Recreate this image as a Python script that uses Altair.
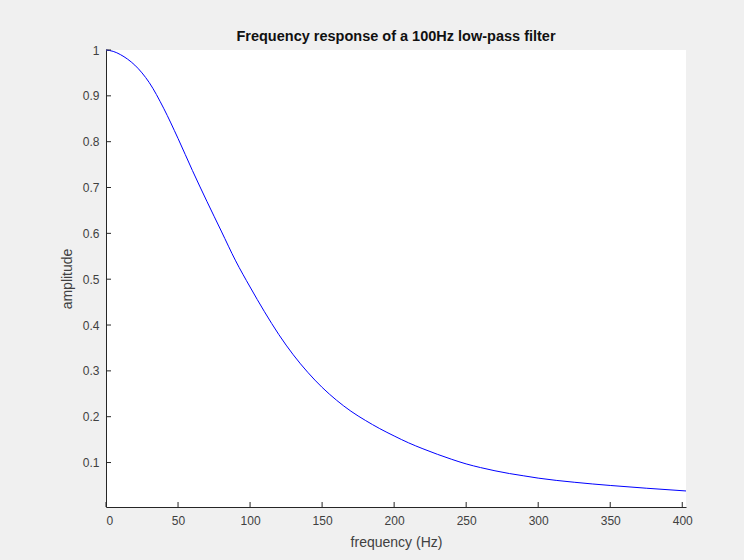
import altair as alt
import pandas as pd

freq = [0, 5, 10, 15, 20, 25, 30, 40, 50, 60, 70, 80, 90, 100, 110, 120, 130,
        140, 150, 160, 170, 180, 190, 200, 210, 220, 230, 240, 250, 260, 270,
        280, 290, 300, 325, 350, 375, 402.6]
amp = [1.0, 0.997, 0.990, 0.980, 0.967, 0.950, 0.929, 0.873, 0.807, 0.737,
       0.670, 0.605, 0.540, 0.483, 0.429, 0.379, 0.335, 0.297, 0.264, 0.236,
       0.212, 0.192, 0.174, 0.158, 0.143, 0.130, 0.118, 0.107, 0.097, 0.089,
       0.082, 0.076, 0.071, 0.066, 0.057, 0.050, 0.044, 0.038]
x_ticks = [0, 50, 100, 150, 200, 250, 300, 350, 400]
y_ticks = [0.1, 0.2, 0.3, 0.4, 0.5, 0.6, 0.7, 0.8, 0.9, 1.0]

W, H = 580, 457
FONT = "Liberation Sans"
TXT = "#404040"
AX = "#262626"

df = pd.DataFrame({"f": freq, "a": amp})
xt = pd.DataFrame({"t": x_ticks})
yt = pd.DataFrame({"t": y_ticks})

xs = alt.Scale(domain=[0, 402.6], nice=False, zero=False)
ys = alt.Scale(domain=[0.003, 1], nice=False, zero=False)

line = alt.Chart(df).mark_line(color="#0000ff", strokeWidth=1, interpolate="monotone").encode(
    x=alt.X("f:Q", scale=xs, title="frequency (Hz)",
            axis=alt.Axis(values=x_ticks, format="d", ticks=False, domainColor=AX,
                          domainWidth=1, labelPadding=8, titlePadding=9, grid=False)),
    y=alt.Y("a:Q", scale=ys, title="amplitude",
            axis=alt.Axis(values=y_ticks, format="~g", ticks=False, domainColor=AX,
                          domainWidth=1, labelPadding=7, titlePadding=8, grid=False)),
)

xtick = alt.Chart(xt).mark_rule(color=AX, strokeWidth=1).encode(
    x=alt.X("t:Q", scale=xs), y=alt.value(H), y2=alt.value(H - 5)
)
ytick = alt.Chart(yt).mark_rule(color=AX, strokeWidth=1).encode(
    y=alt.Y("t:Q", scale=ys), x=alt.value(0), x2=alt.value(5)
)

chart = alt.layer(line, xtick, ytick).properties(
    width=W, height=H,
    title=alt.Title("Frequency response of a 100Hz low-pass filter", fontSize=14.5,
                    fontWeight="bold", font=FONT, color="#111111", anchor="middle", offset=0),
    autosize=alt.AutoSizeParams(type="none"),
    padding={"left": 106, "top": 50, "right": 58, "bottom": 53},
    background="#f0f0f0",
).configure_view(fill="white", stroke=None).configure_axis(
    labelFont=FONT, labelFontSize=12, labelColor=TXT,
    titleFont=FONT, titleFontSize=14, titleColor=TXT, titleFontWeight="normal",
)

chart.save("out.html", embed_options={"renderer": "svg", "actions": False})
